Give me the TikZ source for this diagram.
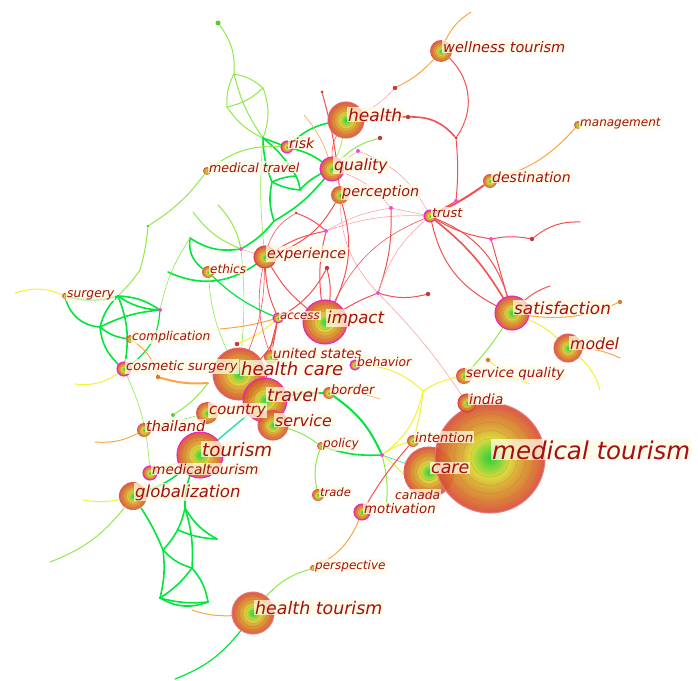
\documentclass[tikz,border=0pt]{standalone}
\usepackage{fontspec}
\setmainfont{DejaVu Sans}
\usetikzlibrary{calc}

\definecolor{kwred}{RGB}{218,62,62}
\definecolor{kworange}{RGB}{215,125,40}
\definecolor{kwyellow}{RGB}{215,215,45}
\definecolor{kwgreen}{RGB}{30,205,40}
\definecolor{lblcolor}{RGB}{165,15,15}
\definecolor{lblback}{RGB}{255,251,228}
\definecolor{lnkgreen}{RGB}{0,230,60}
\definecolor{lnklime}{RGB}{140,235,70}
\definecolor{lnkyellow}{RGB}{245,240,50}
\definecolor{lnkorange}{RGB}{250,165,70}
\definecolor{lnkred}{RGB}{245,80,80}
\definecolor{lnkpink}{RGB}{250,165,165}
\definecolor{lnkteal}{RGB}{40,225,160}
\definecolor{ringpink}{RGB}{235,30,200}

% the circle edge of a node falls at about 35bp of this shading
\pgfdeclareradialshading{kwshade}{\pgfpoint{0bp}{0bp}}{%
  color(0bp)=(kwgreen); color(4bp)=(kwgreen!60!kwyellow); color(9bp)=(kwyellow);
  color(14bp)=(kwyellow!40!kworange); color(19bp)=(kworange); color(24bp)=(kwred!70!kworange);
  color(28bp)=(kwred); color(50bp)=(kwred)}

\pgfdeclarelayer{links}
\pgfdeclarelayer{labels}
\pgfsetlayers{links,main,labels}

% keyword node: name, x, y, radius, ring colour, font size, label
\newcommand{\kw}[7]{%
  \node[kwnode, minimum size=2*#4pt, draw=#5] (#1) at (#2,#3) {};
  \ifdim#4pt>7pt
    \foreach \f in {0.35,0.5,0.65,0.8}
      \draw[kwred!60!kworange, opacity=0.35, line width=0.5pt] (#1.center) circle ({#4*\f});
  \fi
  \begin{pgfonlayer}{labels}
    \node[kwlabel, font={\fontsize{#6}{#6}\selectfont\itshape}, anchor=base west]
      (#1-l) at ($(#1.center)+(1,1)$) {#7};
  \end{pgfonlayer}
}

\begin{document}
\begin{tikzpicture}[x=1pt, y=-1pt,
    kwnode/.style={circle, inner sep=0pt, shading=kwshade, opacity=0.92, line width=1.1pt},
    kwlabel/.style={text=lblcolor, fill=lblback, fill opacity=0.75, text opacity=1, inner sep=1pt},
    reddot/.style={circle, inner sep=0pt, minimum size=4.5pt, fill=kwred!90!black},
    magdot/.style={circle, inner sep=0pt, minimum size=4pt, fill=ringpink!80!white},
    limedot/.style={circle, inner sep=0pt, minimum size=5pt, fill=kwgreen!70!kwyellow},
    orangedot/.style={circle, inner sep=0pt, minimum size=4.5pt, fill=kworange},
    greenlink/.style={draw=lnkgreen, line width=1.6pt, line cap=round},
    limelink/.style={draw=lnklime, line width=1pt, line cap=round},
    yellowlink/.style={draw=lnkyellow, line width=1pt, line cap=round},
    orangelink/.style={draw=lnkorange, line width=1pt, line cap=round},
    redlink/.style={draw=lnkred, line width=1pt, line cap=round},
    pinklink/.style={draw=lnkpink, line width=0.6pt, line cap=round}]
  \useasboundingbox (0,0) rectangle (698,680);

  % keywords
  \kw{health}{346}{120}{18}{kwred!80!white}{17}{health}
  \kw{wellness}{441}{51}{11}{none}{14.5}{wellness tourism}
  \kw{management}{578}{125}{4}{none}{12}{management}
  \kw{destination}{490}{181}{7}{none}{14}{destination}
  \kw{trust}{430}{216}{6}{ringpink}{12.8}{trust}
  \kw{risk}{287}{147}{6}{ringpink}{14}{risk}
  \kw{quality}{332}{169}{12}{ringpink}{15.6}{quality}
  \kw{perception}{340}{195}{9}{none}{14.3}{perception}
  \kw{medtravel}{207}{171}{4}{none}{12.6}{medical travel}
  \kw{experience}{265}{257}{11}{kwred}{14.2}{experience}
  \kw{ethics}{208}{272}{6}{none}{12}{ethics}
  \kw{surgery}{65}{296}{3}{none}{12.3}{surgery}
  \kw{complication}{130}{339}{4}{none}{12.2}{complication}
  \kw{cosmetic}{124}{369}{7}{ringpink}{12.9}{cosmetic surgery}
  \kw{access}{278}{318}{5}{ringpink}{11.7}{access}
  \kw{impact}{325}{322}{22}{ringpink}{16.5}{impact}
  \kw{unitedstates}{271}{357}{7}{none}{13.5}{united states}
  \kw{healthcare}{239}{374}{26}{kwred!80!white}{18}{health care}
  \kw{behavior}{355}{365}{5}{ringpink}{12.3}{behavior}
  \kw{border}{329}{393}{6}{none}{13}{border}
  \kw{travel}{265}{400}{22}{ringpink}{17.5}{travel}
  \kw{country}{207}{413}{11}{none}{14.8}{country}
  \kw{service}{273}{425}{15}{kwred!80!white}{15.8}{service}
  \kw{thailand}{144}{430}{7}{none}{14.5}{thailand}
  \kw{tourism}{200}{455}{23}{ringpink}{18.3}{tourism}
  \kw{policy}{321}{446}{4}{none}{12.1}{policy}
  \kw{medicaltourism}{150}{473}{7}{ringpink}{13.7}{medicaltourism}
  \kw{globalization}{133}{496}{14}{none}{16.5}{globalization}
  \kw{trade}{318}{495}{6}{none}{11.5}{trade}
  \kw{motivation}{362}{512}{8}{ringpink}{13.3}{motivation}
  \kw{intention}{413}{441}{6}{none}{13}{intention}
  \kw{care}{429}{472}{25}{kwred!80!white}{17.4}{care}
  \kw{medtourism}{490}{458}{55}{kwred!70!white}{24.5}{medical tourism}
  \kw{india}{467}{403}{9}{kwred}{14}{india}
  \kw{servq}{464}{376}{8}{none}{13.4}{service quality}
  \kw{satisfaction}{512}{313}{17}{ringpink}{16.8}{satisfaction}
  \kw{model}{568}{348}{14}{kwred!80!white}{15.7}{model}
  \kw{healthtourism}{253}{613}{21}{kwred!70!white}{17.4}{health tourism}
  \kw{perspective}{313}{568}{3}{none}{12}{perspective}
  \begin{pgfonlayer}{labels}
    \node[kwlabel, font={\fontsize{12.3}{12.3}\selectfont\itshape}, anchor=base west]
      (canada) at (394,499) {canada};
  \end{pgfonlayer}

  % small link points
  \node[limedot] (g0) at (218,23) {};
  \node[limedot, minimum size=3pt] (m1) at (148,226) {};
  \node[magdot] (p1) at (241,249) {};
  \node[magdot] (p2) at (160,310) {};
  \node[magdot] (p3) at (382,455) {};
  \node[magdot] (p4) at (456,201) {};
  \node[magdot] (p5) at (491,239) {};
  \node[magdot] (p6) at (378,293) {};
  \node[magdot] (p7) at (326,231) {};
  \node[magdot] (p8) at (391,208) {};
  \node[magdot] (p9) at (358,151) {};
  \node[reddot] (r1) at (237,344) {};
  \node[reddot] (r2) at (408,117) {};
  \node[reddot, minimum size=3pt] (r3) at (456,138) {};
  \node[reddot] (r4) at (395,88) {};
  \node[reddot] (r5) at (532,239) {};
  \node[reddot] (r7) at (380,138) {};
  \node[reddot] (r8) at (428,294) {};
  \node[reddot, minimum size=3pt] (r9) at (322,92) {};
  \node[reddot] (r10) at (327,268) {};
  \node[reddot, minimum size=3pt] (r11) at (296,213) {};
  \node[orangedot] (o1) at (158,377) {};
  \node[orangedot] (o8) at (620,302) {};
  \node[orangedot] (o10) at (488,360) {};
  \node[limedot, minimum size=4pt] (lm1) at (173,415) {};
  \coordinate (g1) at (234,74);
  \coordinate (g2) at (263,88);
  \coordinate (g3) at (263,138);
  \coordinate (g4) at (227,107);
  \coordinate (h1) at (272,182);
  \coordinate (h2) at (296,176);
  \coordinate (h3) at (300,190);
  \coordinate (h4) at (274,221);
  \coordinate (e1) at (190,238);
  \coordinate (e2) at (193,212);
  \coordinate (e3) at (218,205);
  \coordinate (e4) at (168,272);
  \coordinate (j1) at (118,296);
  \coordinate (j2) at (100,327);
  \coordinate (y0) at (15,293);
  \coordinate (y1) at (423,391);
  \coordinate (y5) at (75,384);
  \coordinate (y6) at (83,500);
  \coordinate (y7) at (600,390);
  \coordinate (y8) at (530,384);
  \coordinate (o2) at (208,383);
  \coordinate (o3) at (220,329);
  \coordinate (o4) at (471,12);
  \coordinate (o5) at (95,442);
  \coordinate (o6) at (192,610);
  \coordinate (o9) at (620,358);
  \coordinate (o11) at (380,399);
  \coordinate (o12) at (304,115);
  \coordinate (c6) at (386,508);
  \coordinate (c7) at (417,493);
  \coordinate (c8) at (175,679);
  \coordinate (c9) at (50,562);
  \coordinate (c10) at (580,222);
  \coordinate (c11) at (550,286);
  \coordinate (c12) at (140,270);
  \coordinate (L1) at (185,508);
  \coordinate (L2) at (217,539);
  \coordinate (L3) at (163,550);
  \coordinate (L4) at (192,568);
  \coordinate (L5) at (160,598);
  \coordinate (L6) at (208,602);
  \coordinate (L7) at (178,530);

  \begin{pgfonlayer}{links}
    % green leaf above risk
    \draw[limelink] (g0) to[bend left=20] (g1);
    \draw[limelink] (g1) to[bend right=15] (g4);
    \draw[limelink] (g4) to[bend right=15] (g3);
    \draw[limelink] (g1) to[bend right=10] (g3);
    \draw[limelink] (g1) to[bend left=15] (g2);
    \draw[limelink] (g2) to[bend left=20] (g3);
    \draw[limelink] (g2) to[bend left=15] (g4);
    \draw[limelink, line width=0.6pt] (g3) to[bend right=5] (experience);
    % green lattice near quality
    \draw[greenlink] (g3) -- (risk);
    \draw[greenlink] (risk) to[bend left=15] (health);
    \draw[greenlink] (risk) to[bend left=10] (quality);
    \draw[greenlink] (g3) to[bend right=10] (h1);
    \draw[greenlink] (g3) to[bend left=10] (h2);
    \draw[greenlink] (h1) to[bend left=10] (h2);
    \draw[greenlink] (h1) to[bend right=15] (h4);
    \draw[greenlink] (h1) to[bend right=10] (h3);
    \draw[greenlink] (h2) to[bend left=10] (h3);
    \draw[greenlink] (quality) to[bend left=10] (h4);
    \draw[greenlink] (quality) to[bend right=10] (h3);
    \draw[limelink, line width=0.6pt] (health) to[bend left=5] (quality);
    \draw[limelink] (quality) to[bend left=15] (r7);
    % medical travel arc
    \draw[limelink] (risk) to[bend right=20] (medtravel);
    \draw[limelink] (medtravel) to[bend left=10] (m1);
    \draw[limelink] (m1) to[bend left=5] (c12);
    \draw[limelink] (c12) to[bend left=5] (j1);
    % ethics
    \draw[limelink] (e2) to[bend right=15] (p1);
    \draw[limelink] (e3) to[bend left=15] (p1);
    \draw[greenlink] (p1) to[bend right=10] (h4);
    \draw[greenlink] (e1) to[bend right=20] (p1);
    \draw[greenlink] (e1) to[bend right=30] (ethics);
    \draw[greenlink] (e4) to[bend right=30] (experience);
    \draw[greenlink, line width=1.2pt] (ethics) to[bend right=10] (access);
    \draw[limelink, line width=0.6pt] (ethics) to[bend right=10] (healthcare);
    \draw[limelink, line width=0.6pt] (p1) to[bend left=5] (healthcare);
    \draw[pinklink] (p1) -- (experience);
    % surgery cluster
    \draw[greenlink] (surgery) to[bend right=35] (j2);
    \draw[greenlink] (surgery) to[bend right=15] (j1);
    \draw[greenlink] (j1) to[bend left=15] (p2);
    \draw[greenlink] (j1) to[bend right=15] (p2);
    \draw[greenlink] (j2) to[bend left=10] (p2);
    \draw[greenlink] (j1) to[bend right=15] (j2);
    \draw[greenlink] (j2) to[bend right=15] (complication);
    \draw[greenlink] (j1) to[bend left=15] (cosmetic);
    \draw[greenlink] (j2) to[bend right=20] (cosmetic);
    \draw[greenlink, line width=1.2pt] (p2) to[bend left=25] (cosmetic);
    \draw[yellowlink] (y0) to[bend left=20] (surgery);
    \draw[yellowlink] (y5) to[bend right=20] (cosmetic);
    \draw[limelink, line width=0.6pt] (p2) to[bend left=10] (e1);
    \draw[limelink, line width=0.6pt] (cosmetic) to[bend left=10] (medicaltourism);
    \draw[orangelink] (complication) to[bend left=20] (o1);
    \draw[orangelink, line width=2pt] (o1) to[bend right=10] (o2);
    \draw[limelink] (o2) to[bend left=10] (lm1);
    \draw[orangelink] (o5) to[bend right=15] (thailand);
    % health care cluster
    \draw[yellowlink] (access) to[bend left=10] (r1);
    \draw[orangelink] (access) to[bend left=5] (o3);
    \draw[redlink] (access) to[bend left=10] (experience);
    \draw[redlink] (access) to[bend right=15] (r10);
    \draw[redlink] (access) -- (unitedstates);
    \draw[redlink] (access) to[bend right=5] (travel);
    \draw[redlink] (access) to[bend left=20] (healthcare);
    \draw[pinklink] (access) to[bend left=15] (impact);
    \draw[redlink, line width=0.6pt] (experience) to[bend right=15] (unitedstates);
    \draw[redlink, line width=0.6pt] (experience) to[bend left=10] (healthcare);
    \draw[greenlink, line width=2pt] (travel) to[bend left=5] (border);
    \draw[greenlink, line width=2pt] (border) to[bend left=15] (p3);
    \draw[greenlink] (policy) to[bend right=10] (p3);
    \draw[limelink] (service) to[bend left=10] (policy);
    \draw[limelink] (policy) to[bend right=15] (trade);
    \draw[orangelink, line width=0.6pt] (border) to[bend left=10] (o11);
    \draw[draw=lnkteal, line width=1.4pt] (tourism) -- (travel);
    \draw[greenlink, line width=1.2pt] (country) -- (travel);
    \draw[limelink, line width=0.6pt] (thailand) -- (country);
    \draw[limelink] (medicaltourism) -- (tourism);
    \draw[greenlink] (globalization) to[bend right=10] (tourism);
    % lower right links
    \draw[limelink] (p3) to[bend left=10] (c6);
    \draw[yellowlink] (p3) to[bend left=10] (c7);
    \draw[draw=lnkteal, line width=0.6pt] (p3) -- (care);
    \draw[yellowlink] (p3) to[bend left=10] (intention);
    \draw[redlink] (motivation) to[bend left=5] (intention);
    \draw[orangelink] (perspective) to[bend right=20] (motivation);
    \draw[limelink] (healthtourism) to[bend left=15] (perspective);
    \draw[greenlink, line width=1.2pt] (healthtourism) to[bend left=15] (c8);
    \draw[orangelink] (healthtourism) to[bend left=10] (o6);
    % globalization lattice
    \draw[greenlink] (globalization) to[bend left=5] (L3);
    \draw[greenlink] (tourism) to[bend right=10] (L1);
    \draw[greenlink] (L1) to[bend left=15] (L3);
    \draw[greenlink] (L1) to[bend right=15] (L2);
    \draw[greenlink] (L7) to[bend right=10] (L2);
    \draw[greenlink] (L3) to[bend right=15] (L4);
    \draw[greenlink] (L3) to[bend left=10] (L5);
    \draw[greenlink] (L4) to[bend left=15] (L6);
    \draw[greenlink] (L5) to[bend right=10] (L6);
    \draw[greenlink] (L5) to[bend right=25] (L6);
    \draw[greenlink] (L4) to[bend left=10] (L5);
    \draw[greenlink] (L1) to[bend left=10] (L4);
    \draw[limelink] (globalization) to[bend left=15] (c9);
    \draw[yellowlink] (y6) to[bend right=10] (globalization);
    % red cluster
    \draw[redlink, line width=1.6pt] (health) to[bend left=5] (r2);
    \draw[redlink, line width=1.6pt] (r2) to[bend left=25] (r3);
    \draw[redlink] (wellness) to[bend left=40] (r3);
    \draw[redlink] (r3) to[bend left=5] (p4);
    \draw[orangelink] (wellness) to[bend left=15] (o4);
    \draw[orangelink] (wellness) to[bend left=10] (r4);
    \draw[pinklink] (r4) to[bend left=10] (health);
    \draw[redlink, line width=2pt] (trust) to[bend right=5] (destination);
    \draw[redlink] (p4) -- (trust);
    \draw[orangelink] (management) to[bend left=15] (destination);
    \draw[redlink] (trust) to[bend right=10] (p5);
    \draw[redlink] (p5) to[bend left=10] (r5);
    \draw[redlink] (r5) to[bend left=20] (c10);
    \draw[redlink, line width=1.6pt] (trust) to[bend left=10] (satisfaction);
    \draw[redlink] (trust) to[bend left=25] (satisfaction);
    \draw[redlink] (p5) -- (satisfaction);
    \draw[redlink] (trust) to[bend right=25] (satisfaction);
    \draw[redlink] (satisfaction) to[bend left=10] (c11);
    \draw[redlink] (r9) to[bend left=5] (perception);
    \draw[redlink, line width=0.6pt] (health) to[bend right=15] (quality);
    \draw[pinklink] (p9) to[bend left=20] (trust);
    \draw[pinklink] (p9) -- (quality);
    \draw[redlink] (perception) to[bend left=20] (experience);
    \draw[redlink] (p7) to[bend right=10] (experience);
    \draw[pinklink] (p7) to[bend left=10] (trust);
    \draw[pinklink] (p7) to[bend left=10] (p8);
    \draw[pinklink] (p8) -- (trust);
    \draw[pinklink] (quality) to[bend left=15] (p8);
    \draw[redlink] (r11) to[bend left=10] (p7);
    \draw[redlink, line width=0.6pt] (experience) to[bend left=20] (r11);
    \draw[redlink] (perception) to[bend left=20] (impact);
    \draw[redlink] (r10) to[bend left=10] (impact);
    \draw[redlink] (experience) to[bend right=10] (impact);
    \draw[redlink] (impact) to[bend left=10] (p7);
    \draw[redlink] (p6) to[bend right=15] (r8);
    \draw[pinklink] (p6) to[bend left=5] (india);
    \draw[redlink] (impact) to[bend left=5] (p6);
    \draw[redlink] (p6) to[bend right=10] (p8);
    \draw[pinklink] (p6) to[bend left=20] (perception);
    \draw[redlink, line width=0.6pt] (trust) to[bend right=20] (impact);
    \draw[pinklink] (trust) to[bend right=15] (p6);
    \draw[orangelink, line width=0.6pt] (o12) to[bend left=10] (quality);
    % satisfaction and service quality
    \draw[orangelink] (satisfaction) to[bend right=15] (o8);
    \draw[orangelink] (model) to[bend left=10] (o9);
    \draw[yellowlink] (satisfaction) to[bend left=10] (model);
    \draw[yellowlink] (model) to[bend left=15] (y7);
    \draw[limelink] (satisfaction) to[bend left=5] (servq);
    \draw[yellowlink] (o10) to[bend right=10] (y8);
    \draw[yellowlink] (behavior) to[bend left=20] (y1);
    \draw[yellowlink] (y1) to[bend left=10] (servq);
    \draw[yellowlink] (y1) to[bend left=5] (intention);
    \draw[yellowlink] (y1) to[bend left=20] (p3);
  \end{pgfonlayer}
\end{tikzpicture}
\end{document}
